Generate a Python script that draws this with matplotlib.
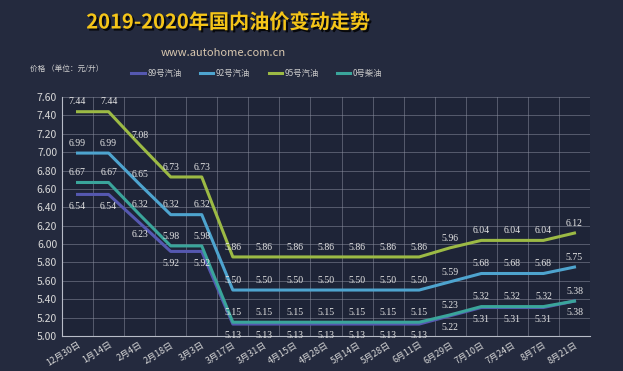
import numpy as np
import matplotlib.pyplot as plt
import matplotlib.patheffects as pe

plt.rcParams['font.family'] = ['Noto Sans CJK SC', 'DejaVu Sans']

dates = ['12月30日', '1月14日', '2月4日', '2月18日', '3月3日', '3月17日', '3月31日',
         '4月15日', '4月28日', '5月14日', '5月28日', '6月11日', '6月29日', '7月10日',
         '7月24日', '8月7日', '8月21日']
p89 = [6.54, 6.54, 6.23, 5.92, 5.92, 5.13, 5.13, 5.13, 5.13, 5.13, 5.13, 5.13,
       5.22, 5.31, 5.31, 5.31, 5.38]
p92 = [6.99, 6.99, 6.65, 6.32, 6.32, 5.50, 5.50, 5.50, 5.50, 5.50, 5.50, 5.50,
       5.59, 5.68, 5.68, 5.68, 5.75]
p95 = [7.44, 7.44, 7.08, 6.73, 6.73, 5.86, 5.86, 5.86, 5.86, 5.86, 5.86, 5.86,
       5.96, 6.04, 6.04, 6.04, 6.12]
p0 = [6.67, 6.67, 6.32, 5.98, 5.98, 5.15, 5.15, 5.15, 5.15, 5.15, 5.15, 5.15,
      5.23, 5.32, 5.32, 5.32, 5.38]

bg = '#242a3e'
fig = plt.figure(figsize=(6.23, 3.71), dpi=100, facecolor=bg)
ax = fig.add_axes([62 / 623, 1 - 336 / 371, 528 / 623, 239 / 371])
ax.set_facecolor('#1e2437')

x = np.arange(len(dates))
series = [
    ('89号汽油', p89, '#5558b0', -8.5),
    ('92号汽油', p92, '#4ea4cf', 7),
    ('95号汽油', p95, '#9cba45', 7),
    ('0号柴油', p0, '#3aa59b', 7),
]
for name, vals, color, off in series:
    ax.plot(x, vals, color=color, lw=2.2, label=name, solid_joinstyle='round')
    for xi, v in zip(x, vals):
        ax.annotate(f'{v:.2f}', (xi, v), xytext=(0, off), textcoords='offset points',
                    ha='center', va='center', fontsize=7, color='#e6e6e6',
                    family='Liberation Serif', annotation_clip=False)

ax.set_xlim(-0.5, len(dates) - 0.5)
ax.set_ylim(5.0, 7.6)
ax.set_yticks(np.arange(5.0, 7.61, 0.2))
ax.set_yticklabels([f'{v:.2f}' for v in np.arange(5.0, 7.61, 0.2)])
ax.set_xticks(x)
ax.set_xticklabels(dates, rotation=32, ha='right', rotation_mode='anchor', fontsize=6.5)
ax.set_xticks(np.arange(-0.5, len(dates), 1), minor=True)
ax.grid(False)
ax.grid(True, which='minor', axis='x', color='#8a8fa0', lw=0.6, alpha=0.6)
ax.grid(True, which='major', axis='y', color='#8a8fa0', lw=0.6, alpha=0.6)
ax.tick_params(axis='both', which='both', length=0, colors='#d8d8d8', labelsize=7.5)
ax.tick_params(axis='x', pad=3, labelsize=6.5)
for s in ax.spines.values():
    s.set_visible(False)
ax.spines['bottom'].set_visible(True)
ax.spines['bottom'].set_color('#b8bcc8')
ax.spines['left'].set_visible(True)
ax.spines['left'].set_color('#b8bcc8')

fig.text(228 / 623, 1 - 22 / 371, '2019-2020年国内油价变动走势', ha='center', va='center',
         fontsize=14.5, fontweight='bold', color='#f5c518',
         path_effects=[pe.withSimplePatchShadow(offset=(1.5, -1.5), shadow_rgbFace='#000000', alpha=0.8)])
fig.text(223 / 623, 1 - 53 / 371, 'www.autohome.com.cn', ha='center', va='center',
         fontsize=8, color='#d9c8b0')
fig.text(30 / 623, 1 - 69 / 371, '价格 （单位：元/升）', ha='left', va='center',
         fontsize=5.5, color='#d0d0d0')
leg = fig.legend(loc='center', bbox_to_anchor=(257 / 623, 1 - 73 / 371), ncol=4,
                 frameon=False, fontsize=6, handlelength=1.6, columnspacing=2.2,
                 handletextpad=0.3)
for t in leg.get_texts():
    t.set_color('#c8c8c8')

fig.savefig('out.png', dpi=100, facecolor=bg)
